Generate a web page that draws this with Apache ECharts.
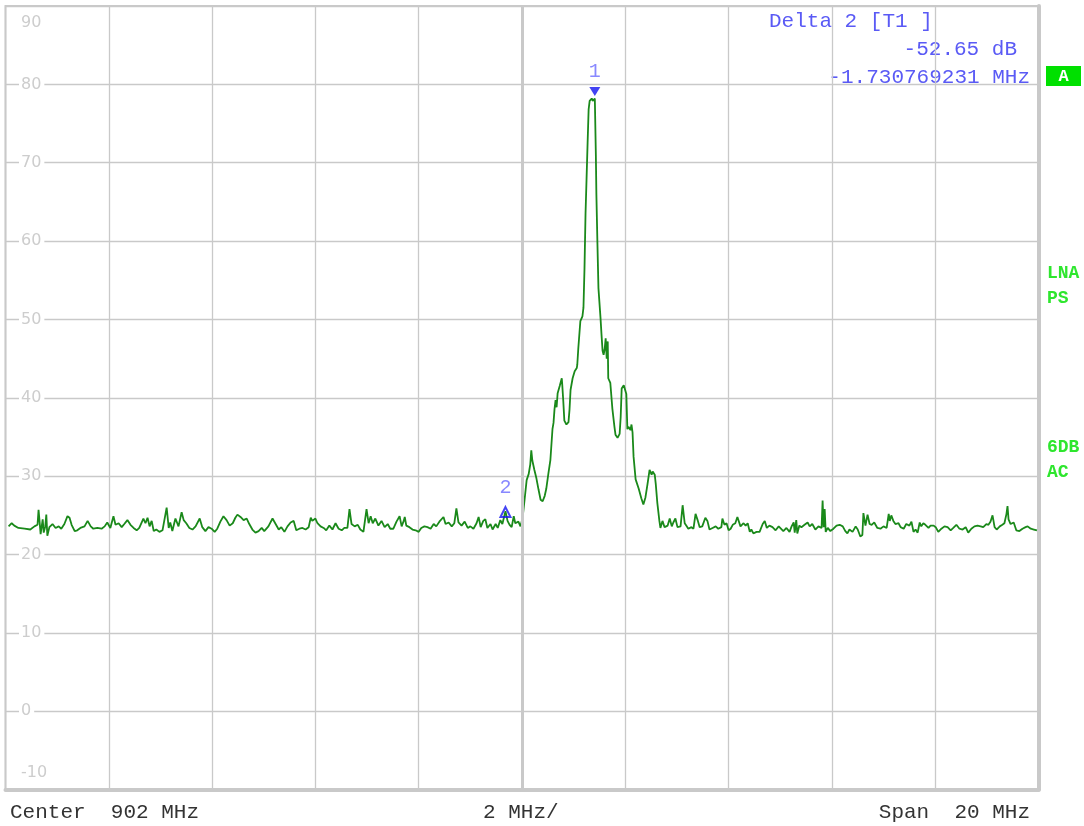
<!DOCTYPE html>
<html>
<head>
<meta charset="utf-8">
<title>Spectrum 902 MHz</title>
<script src="https://cdn.jsdelivr.net/npm/echarts@6/dist/echarts.min.js"></script>
<style>
  html, body { margin: 0; padding: 0; background: #fff; }
  #chart { width: 1084px; height: 826px; }
</style>
</head>
<body>
<div id="chart"></div>
<script>
// Sweep trace: frequency (MHz) and level (dB) of each trace vertex
const traceFreqMHz = [
  892.06, 892.12, 892.17, 892.25, 892.37, 892.48, 892.56, 892.62, 892.64, 892.66, 892.68, 892.72, 892.74, 892.77, 892.79, 892.81,
  892.85, 892.91, 892.97, 893.03, 893.08, 893.14, 893.20, 893.24, 893.28, 893.34, 893.39, 893.45, 893.53, 893.59, 893.65, 893.70,
  893.78, 893.86, 893.92, 893.97, 894.03, 894.09, 894.13, 894.19, 894.25, 894.30, 894.36, 894.42, 894.48, 894.54, 894.59, 894.67,
  894.71, 894.75, 894.79, 894.83, 894.87, 894.92, 894.98, 895.04, 895.12, 895.16, 895.19, 895.23, 895.29, 895.35, 895.41, 895.45,
  895.50, 895.56, 895.62, 895.68, 895.76, 895.81, 895.87, 895.93, 895.99, 896.05, 896.10, 896.16, 896.22, 896.28, 896.34, 896.40,
  896.45, 896.49, 896.55, 896.61, 896.67, 896.72, 896.78, 896.84, 896.90, 896.96, 897.01, 897.09, 897.17, 897.23, 897.29, 897.34,
  897.40, 897.46, 897.52, 897.58, 897.63, 897.69, 897.75, 897.81, 897.87, 897.91, 897.94, 898.00, 898.04, 898.10, 898.16, 898.21,
  898.27, 898.33, 898.39, 898.45, 898.51, 898.56, 898.62, 898.66, 898.70, 898.76, 898.82, 898.87, 898.93, 898.99, 899.03, 899.07,
  899.11, 899.16, 899.22, 899.28, 899.34, 899.40, 899.45, 899.51, 899.57, 899.63, 899.67, 899.71, 899.73, 899.76, 899.82, 899.88,
  899.94, 900.00, 900.05, 900.11, 900.17, 900.23, 900.29, 900.34, 900.40, 900.48, 900.52, 900.58, 900.64, 900.69, 900.73, 900.77,
  900.83, 900.89, 900.95, 901.00, 901.06, 901.12, 901.16, 901.20, 901.25, 901.29, 901.33, 901.39, 901.43, 901.49, 901.53, 901.58,
  901.62, 901.68, 901.72, 901.76, 901.80, 901.84, 901.87, 901.93, 901.97, 902.01, 902.05, 902.09, 902.13, 902.16, 902.18, 902.20,
  902.22, 902.24, 902.28, 902.32, 902.36, 902.40, 902.44, 902.47, 902.51, 902.55, 902.59, 902.61, 902.63, 902.65, 902.67, 902.69,
  902.73, 902.77, 902.78, 902.80, 902.82, 902.86, 902.90, 902.92, 902.94, 902.98, 903.02, 903.06, 903.07, 903.09, 903.13, 903.17,
  903.19, 903.21, 903.23, 903.25, 903.27, 903.29, 903.31, 903.35, 903.37, 903.41, 903.43, 903.44, 903.46, 903.48, 903.52, 903.54,
  903.56, 903.58, 903.60, 903.62, 903.64, 903.66, 903.67, 903.71, 903.75, 903.79, 903.81, 903.85, 903.89, 903.91, 903.93, 903.97,
  904.00, 904.02, 904.04, 904.06, 904.10, 904.12, 904.14, 904.16, 904.20, 904.26, 904.31, 904.35, 904.39, 904.43, 904.47, 904.51,
  904.53, 904.57, 904.59, 904.62, 904.66, 904.68, 904.72, 904.76, 904.82, 904.86, 904.90, 904.93, 904.97, 905.01, 905.07, 905.11,
  905.15, 905.18, 905.22, 905.28, 905.32, 905.36, 905.40, 905.44, 905.49, 905.55, 905.59, 905.63, 905.69, 905.75, 905.80, 905.86,
  905.88, 905.92, 905.96, 906.00, 906.04, 906.08, 906.13, 906.17, 906.23, 906.29, 906.33, 906.37, 906.41, 906.44, 906.48, 906.54,
  906.60, 906.66, 906.70, 906.74, 906.79, 906.85, 906.91, 906.97, 907.00, 907.06, 907.12, 907.18, 907.22, 907.26, 907.28, 907.31,
  907.33, 907.37, 907.41, 907.47, 907.53, 907.57, 907.62, 907.68, 907.74, 907.80, 907.82, 907.84, 907.86, 907.88, 907.92, 907.97,
  908.03, 908.09, 908.15, 908.21, 908.26, 908.30, 908.34, 908.40, 908.46, 908.50, 908.55, 908.59, 908.61, 908.65, 908.69, 908.73,
  908.77, 908.82, 908.88, 908.94, 909.00, 909.06, 909.10, 909.12, 909.15, 909.19, 909.23, 909.29, 909.33, 909.39, 909.44, 909.50,
  909.54, 909.58, 909.62, 909.66, 909.70, 909.73, 909.77, 909.81, 909.87, 909.91, 909.97, 910.01, 910.06, 910.12, 910.18, 910.24,
  910.30, 910.35, 910.41, 910.47, 910.53, 910.59, 910.64, 910.70, 910.76, 910.82, 910.88, 910.93, 910.99, 911.03, 911.07, 911.11,
  911.15, 911.19, 911.25, 911.30, 911.34, 911.38, 911.40, 911.42, 911.46, 911.52, 911.57, 911.63, 911.69, 911.75, 911.79, 911.85,
  911.91, 911.97
];
const traceLevelDb = [
  23.6, 24.0, 23.7, 23.4, 23.3, 23.2, 23.6, 23.8, 25.7, 24.2, 22.6, 24.5, 22.8, 23.6, 25.1, 22.4,
  23.5, 23.9, 23.4, 23.6, 23.3, 23.9, 24.9, 24.7, 23.8, 23.0, 23.1, 23.4, 23.6, 24.3, 23.6, 23.3,
  23.4, 23.3, 23.6, 24.1, 23.4, 24.9, 23.8, 24.0, 23.5, 23.9, 24.4, 23.8, 23.4, 23.1, 23.4, 24.6,
  24.0, 24.7, 23.6, 24.3, 23.0, 23.2, 22.9, 23.1, 26.0, 23.4, 24.1, 23.0, 24.6, 23.6, 25.4, 24.4,
  24.0, 23.4, 23.2, 23.6, 24.6, 23.5, 23.0, 23.5, 23.3, 22.9, 23.3, 24.2, 24.9, 24.4, 23.7, 24.0,
  24.7, 25.1, 24.8, 24.4, 24.6, 23.9, 23.2, 22.8, 23.0, 23.4, 23.0, 23.6, 24.6, 23.9, 23.2, 23.5,
  22.9, 23.6, 24.1, 24.3, 23.1, 23.3, 23.4, 23.2, 23.5, 24.7, 24.3, 24.6, 24.0, 23.6, 23.4, 23.1,
  23.7, 23.2, 24.0, 23.3, 23.1, 23.4, 23.4, 25.8, 23.9, 23.6, 23.8, 23.2, 22.9, 25.8, 24.0, 24.9,
  24.0, 24.6, 23.7, 24.3, 23.5, 23.9, 23.3, 23.3, 24.2, 24.9, 23.6, 24.3, 24.8, 23.7, 23.5, 23.2,
  23.1, 22.9, 23.4, 23.6, 23.5, 23.3, 23.9, 23.6, 24.2, 24.8, 23.9, 24.1, 23.6, 24.0, 25.9, 24.1,
  23.7, 24.2, 23.4, 23.6, 23.3, 24.0, 24.8, 23.5, 24.3, 24.5, 23.4, 23.9, 23.2, 23.9, 23.4, 24.4,
  23.9, 25.55, 24.3, 23.8, 23.5, 24.9, 24.0, 24.2, 23.6, 24.6, 27.0, 29.5, 30.3, 31.5, 33.3, 32.0,
  32.2, 30.8, 29.7, 28.3, 27.0, 26.8, 27.5, 28.4, 30.3, 32.1, 36.0, 36.8, 38.6, 39.7, 38.8, 40.6,
  41.5, 42.5, 41.6, 39.5, 37.1, 36.6, 36.9, 38.5, 41.0, 42.5, 43.4, 43.8, 44.2, 46.3, 49.8, 50.4,
  51.5, 56.5, 63.5, 68.0, 72.5, 76.8, 77.9, 78.2, 77.9, 78.2, 71.0, 66.0, 59.8, 54.0, 50.2, 48.0,
  46.0, 45.5, 46.2, 47.6, 45.0, 47.2, 42.5, 41.9, 38.6, 36.3, 35.3, 34.9, 35.4, 37.5, 41.2, 41.6,
  41.4, 40.5, 36.0, 36.3, 35.9, 36.6, 35.6, 32.5, 29.6, 28.4, 27.2, 26.4, 27.3, 29.0, 30.8, 30.2,
  30.6, 30.2, 29.0, 26.6, 24.3, 23.4, 24.3, 23.5, 23.7, 24.6, 23.6, 24.1, 24.6, 23.5, 23.6, 26.3,
  24.0, 23.7, 23.3, 23.5, 23.3, 25.2, 24.4, 23.5, 23.6, 24.7, 24.3, 23.2, 23.4, 23.6, 23.3, 23.5,
  24.6, 23.8, 24.0, 23.1, 23.3, 23.8, 24.0, 24.8, 23.6, 24.0, 23.7, 24.0, 22.9, 23.2, 22.7, 22.9,
  22.9, 23.9, 24.3, 23.4, 23.7, 23.5, 23.1, 23.6, 23.5, 23.0, 23.4, 22.9, 23.6, 24.1, 22.8, 24.4,
  22.7, 23.7, 23.5, 23.8, 24.1, 23.6, 23.9, 23.2, 23.6, 23.4, 26.9, 23.5, 25.8, 22.9, 23.4, 23.0,
  23.3, 23.7, 23.8, 23.6, 23.0, 22.7, 23.2, 22.9, 23.6, 23.2, 22.3, 22.5, 25.3, 23.7, 25.1, 23.9,
  23.8, 24.1, 23.4, 23.3, 23.6, 23.4, 25.2, 24.3, 25.0, 24.3, 23.9, 24.0, 23.5, 23.3, 23.9, 23.7,
  24.2, 22.9, 23.2, 22.8, 24.1, 23.6, 24.0, 23.8, 23.4, 23.7, 23.7, 23.5, 22.9, 23.3, 23.6, 23.5,
  23.1, 23.4, 23.8, 23.3, 23.2, 23.5, 22.8, 23.3, 23.6, 23.7, 23.6, 23.5, 23.9, 23.8, 24.2, 25.0,
  23.5, 23.2, 23.6, 23.8, 24.0, 25.2, 26.2, 24.5, 23.9, 24.1, 23.1, 23.0, 23.3, 23.5, 23.6, 23.3,
  23.2, 23.1
];

// Markers: 1 = reference peak, 2 = delta marker
const markerNames = ['1', '2'];
const markerFreqMHz = [903.41, 901.68];
const markerLevelDb = [78.2, 25.55];

// Level axis (dB) and frequency axis (MHz)
const levelTicks = [-10, 0, 10, 20, 30, 40, 50, 60, 70, 80, 90];
const freqStart = 892, freqStop = 912, freqDiv = 2;

// Annotation texts
const deltaTitle = 'Delta 2 [T1 ]';
const deltaLevel = '-52.65 dB';
const deltaFreq = '-1.730769231 MHz';
const footer = ['Center  902 MHz', '2 MHz/', 'Span  20 MHz'];
const sideFlags = [['LNA', 273], ['PS', 298], ['6DB', 447], ['AC', 472]];

const MONO = '"Courier New", "Liberation Mono", monospace';
const SANS = '"DejaVu Sans", sans-serif';
const GRID_COLOR = '#c9c9c9';
const LABEL_COLOR = '#cdcdcd';

const chart = echarts.init(document.getElementById('chart'), null, { renderer: 'canvas' });

const tracePoints = traceFreqMHz.map((f, i) => [f, traceLevelDb[i]]);

const option = {
  animation: false,
  backgroundColor: '#ffffff',
  grid: {
    left: 5.5, right: 45.5, top: 6, bottom: 36.3,
    show: true, borderColor: GRID_COLOR, borderWidth: 2, backgroundColor: 'transparent'
  },
  xAxis: {
    type: 'value', min: freqStart, max: freqStop, interval: freqDiv,
    axisLabel: { show: false }, axisTick: { show: false },
    axisLine: { show: true, onZero: false, lineStyle: { color: GRID_COLOR, width: 4 } },
    splitLine: { show: true, lineStyle: { color: GRID_COLOR, width: 1.3 } }
  },
  yAxis: [
    {
      type: 'value', min: levelTicks[0], max: levelTicks[levelTicks.length - 1], interval: 10,
      axisLine: { show: false }, axisTick: { show: false },
      splitLine: { show: true, lineStyle: { color: GRID_COLOR, width: 1.3 } },
      axisLabel: {
        inside: true, margin: 13.5,
        color: LABEL_COLOR, fontFamily: SANS, fontSize: 16,
        formatter: v => v === levelTicks[levelTicks.length - 1] ? '{top|' + v + '}'
          : v === levelTicks[0] ? '{bot|' + v + '}' : '{mid|' + v + '}',
        rich: {
          mid: { backgroundColor: '#ffffff', padding: [2, 3, 2, 2], color: LABEL_COLOR, fontSize: 16, fontFamily: SANS },
          top: { padding: [34, 0, 0, 2], color: LABEL_COLOR, fontSize: 16, fontFamily: SANS },
          bot: { padding: [0, 0, 33, 2], color: LABEL_COLOR, fontSize: 16, fontFamily: SANS }
        }
      }
    },
    {
      type: 'value', position: 'right', min: levelTicks[0], max: levelTicks[levelTicks.length - 1], interval: 10,
      axisLine: { show: true, lineStyle: { color: GRID_COLOR, width: 4 } },
      axisTick: { show: false }, axisLabel: { show: false }, splitLine: { show: false }
    }
  ],
  series: [
    {
      // heavier centre-frequency line
      type: 'line', data: [], z: 1, silent: true,
      markLine: {
        silent: true, symbol: 'none', label: { show: false },
        lineStyle: { color: GRID_COLOR, width: 3, type: 'solid' },
        data: [{ xAxis: (freqStart + freqStop) / 2 }]
      }
    },
    {
      name: 'Trace 1', type: 'line', data: tracePoints, z: 3,
      showSymbol: false, symbol: 'none',
      lineStyle: { color: '#1a891a', width: 1.8 }
    },
    {
      name: 'Marker 1', type: 'scatter', z: 5,
      data: [[markerFreqMHz[0], markerLevelDb[0]]],
      symbol: 'triangle', symbolRotate: 180, symbolSize: [11, 9], symbolOffset: [0, -7],
      itemStyle: { color: '#1414f0' },
      label: { show: true, position: 'top', distance: 5, formatter: markerNames[0], color: '#6a6aff', fontSize: 20, fontFamily: MONO }
    },
    {
      name: 'Marker 2', type: 'scatter', z: 5,
      data: [[markerFreqMHz[1], markerLevelDb[1]]],
      symbol: 'triangle', symbolSize: [10, 10], symbolOffset: [0, 1],
      itemStyle: { color: 'rgba(255,255,255,0)', borderColor: '#1414f0', borderWidth: 2 },
      label: { show: true, position: 'top', distance: 8, formatter: markerNames[1], color: '#6a6aff', fontSize: 20, fontFamily: MONO }
    }
  ],
  graphic: [
    { type: 'text', x: 769, y: 21, style: { text: deltaTitle, font: '21px ' + MONO, fill: '#5a5af5', align: 'left', verticalAlign: 'middle' } },
    { type: 'text', x: 1017, y: 49, style: { text: deltaLevel, font: '21px ' + MONO, fill: '#5a5af5', align: 'right', verticalAlign: 'middle' } },
    { type: 'text', x: 1030, y: 77, style: { text: deltaFreq, font: '21px ' + MONO, fill: '#5a5af5', align: 'right', verticalAlign: 'middle' } },
    { type: 'rect', shape: { x: 1046, y: 66, width: 35, height: 20 }, style: { fill: '#00e000' } },
    { type: 'text', x: 1063.5, y: 76.5, style: { text: 'A', font: 'bold 17px ' + MONO, fill: '#ffffff', align: 'center', verticalAlign: 'middle' } },
    { type: 'text', x: 10, y: 812, style: { text: footer[0], font: '21px ' + MONO, fill: '#333333', align: 'left', verticalAlign: 'middle' } },
    { type: 'text', x: 483, y: 812, style: { text: footer[1], font: '21px ' + MONO, fill: '#333333', align: 'left', verticalAlign: 'middle' } },
    { type: 'text', x: 1030, y: 812, style: { text: footer[2], font: '21px ' + MONO, fill: '#333333', align: 'right', verticalAlign: 'middle' } }
  ].concat(sideFlags.map(([t, y]) => ({
    type: 'text', x: 1047, y: y,
    style: { text: t, font: 'bold 18px ' + MONO, fill: '#2ee62e', align: 'left', verticalAlign: 'middle' }
  })))
};

chart.setOption(option);
</script>
</body>
</html>
